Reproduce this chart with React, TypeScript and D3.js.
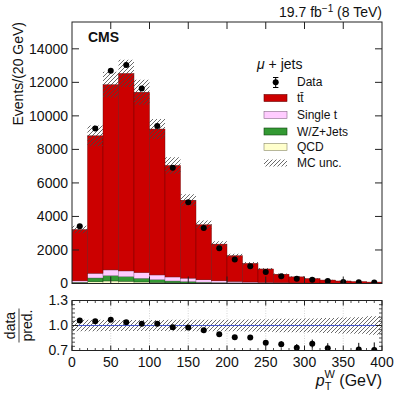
import React from "react";
import * as d3 from "d3";

// bins of 20 GeV, 0-400
const binEdges = [0, 20, 40, 60, 80, 100, 120, 140, 160, 180, 200, 220, 240, 260, 280, 300, 320, 340, 360, 380, 400];

const dataCounts = [3415, 9250, 12690, 13030, 11640, 9400, 6900, 4850, 3310, 2100, 1425, 1027, 688, 430, 290, 230, 150, 90, 82, 60];

const qcd = [20, 100, 150, 130, 90, 60, 40, 30, 20, 15, 10, 8, 5, 4, 3, 2, 2, 1, 1, 1];
const wzJets = [60, 230, 320, 280, 220, 170, 110, 90, 60, 45, 35, 25, 18, 13, 10, 8, 6, 5, 4, 3];
const singleTop = [80, 280, 340, 340, 340, 280, 240, 200, 140, 100, 75, 55, 40, 30, 22, 16, 12, 9, 7, 5];
const ttbar = [3060, 8200, 11050, 11780, 10760, 8705, 6650, 4650, 3286, 2190, 1537, 1112, 804, 508, 360, 269, 186, 135, 103, 76];

// relative MC uncertainty per bin
const mcRelUnc = [0.07, 0.07, 0.065, 0.065, 0.065, 0.065, 0.07, 0.07, 0.07, 0.07, 0.07, 0.072, 0.075, 0.08, 0.082, 0.085, 0.09, 0.095, 0.1, 0.11];

const yTicks = [0, 2000, 4000, 6000, 8000, 10000, 12000, 14000];
const xTicks = [0, 50, 100, 150, 200, 250, 300, 350, 400];
const ratioTicks = [0.7, 1.0, 1.3];

const legendItems = [
  { key: "tt", label: "tt\u0304", color: "#cc0000", stroke: "#660000" },
  { key: "st", label: "Single t", color: "#ffccff", stroke: "#886688" },
  { key: "wz", label: "W/Z+Jets", color: "#339933", stroke: "#114411" },
  { key: "qcd", label: "QCD", color: "#ffffcc", stroke: "#888866" },
];

const FONT = "'Liberation Sans', Arial, Helvetica, sans-serif";

export default function App() {
  const W = 399, H = 399;
  const L = 72, R = 382, T = 22, B = 283.5;
  const rT = 300.5, rB = 350.5;

  const x = d3.scaleLinear().domain([0, 400]).range([L, R]);
  const y = d3.scaleLinear().domain([0, 15600]).range([B, T]);
  const yr = d3.scaleLinear().domain([0.7, 1.3]).range([rB, rT]);

  const bins = dataCounts.map((d, i) => ({
    i,
    x0: binEdges[i],
    x1: binEdges[i + 1],
    qcd: qcd[i],
    wz: wzJets[i],
    st: singleTop[i],
    tt: ttbar[i],
    data: d,
  }));

  const stack = d3.stack<any>().keys(["qcd", "wz", "st", "tt"])(bins);
  const colorOf: Record<string, { color: string; stroke: string }> = {};
  legendItems.forEach((l) => (colorOf[l.key] = l));

  const mcTotal = bins.map((b) => b.qcd + b.wz + b.st + b.tt);

  const uncArea = d3
    .area<{ xv: number; lo: number; hi: number }>()
    .x((d) => x(d.xv))
    .y0((d) => y(d.lo))
    .y1((d) => y(d.hi))
    .curve(d3.curveStepAfter);
  const uncPts = bins.map((b, i) => ({ xv: b.x0, lo: mcTotal[i] * (1 - mcRelUnc[i]), hi: mcTotal[i] * (1 + mcRelUnc[i]) }));
  uncPts.push({ ...uncPts[uncPts.length - 1], xv: 400 });

  const ratioArea = d3
    .area<{ xv: number; lo: number; hi: number }>()
    .x((d) => x(d.xv))
    .y0((d) => yr(d.lo))
    .y1((d) => yr(d.hi))
    .curve(d3.curveStepAfter);
  const ratioPts = bins.map((b, i) => ({ xv: b.x0, lo: 1 - mcRelUnc[i], hi: 1 + mcRelUnc[i] }));
  ratioPts.push({ ...ratioPts[ratioPts.length - 1], xv: 400 });

  const minorX = d3.range(0, 401, 10).filter((v) => v % 50 !== 0);
  const minorR = d3.range(0.75, 1.3, 0.05).filter((v) => Math.abs(v - 1.0) > 0.01);

  const legX = 264, labX = 297;
  const rowY = [82, 98, 115, 131.5, 147, 163];

  return (
    <svg width={W} height={H} style={{ position: "absolute", left: 0, top: 0, background: "#fff" }} fontFamily={FONT}>
      <defs>
        <pattern id="hatch" patternUnits="userSpaceOnUse" width="4" height="4">
          <path d="M-1,1 l2,-2 M0,4 l4,-4 M3,5 l2,-2" stroke="#444" strokeWidth="0.8" />
        </pattern>
        <clipPath id="mainClip">
          <rect x={L} y={T} width={R - L} height={B - T} />
        </clipPath>
        <clipPath id="ratioClip">
          <rect x={L} y={rT} width={R - L} height={rB - rT} />
        </clipPath>
      </defs>

      {/* stacked MC */}
      <g clipPath="url(#mainClip)">
        {stack.map((layer) =>
          layer.map((d, i) => (
            <rect
              key={layer.key + i}
              x={x(bins[i].x0)}
              width={x(bins[i].x1) - x(bins[i].x0)}
              y={y(d[1])}
              height={Math.max(0, y(d[0]) - y(d[1]))}
              fill={colorOf[layer.key].color}
              stroke={colorOf[layer.key].stroke}
              strokeWidth={0.4}
            />
          ))
        )}
        <path d={uncArea(uncPts) || ""} fill="url(#hatch)" />
        {/* data */}
        {bins.map((b, i) => {
          const cx = x((b.x0 + b.x1) / 2);
          const e = Math.sqrt(b.data);
          return (
            <g key={"d" + i}>
              <line x1={cx} x2={cx} y1={y(b.data - e)} y2={y(b.data + e)} stroke="#000" strokeWidth={1} />
              <circle cx={cx} cy={y(b.data)} r={3} fill="#000" />
            </g>
          );
        })}
      </g>

      {/* main frame and ticks */}
      <rect x={L} y={T} width={R - L} height={B - T} fill="none" stroke="#222" strokeWidth={1} />
      {yTicks.map((t) => (
        <g key={"yt" + t}>
          <line x1={L} x2={L + 7} y1={y(t)} y2={y(t)} stroke="#222" />
          <line x1={R} x2={R - 7} y1={y(t)} y2={y(t)} stroke="#222" />
          <text x={L - 4} y={y(t)} dy="0.35em" textAnchor="end" fontSize={14} fill="#111">
            {t}
          </text>
        </g>
      ))}
      {xTicks.slice(1, -1).map((t) => (
        <g key={"xt" + t}>
          <line x1={x(t)} x2={x(t)} y1={T} y2={T + 7} stroke="#222" />
          <line x1={x(t)} x2={x(t)} y1={B} y2={B - 7} stroke="#222" />
        </g>
      ))}

      <text transform={`translate(23,${T}) rotate(-90)`} textAnchor="end" fontSize={14} fill="#111">
        Events/(20 GeV)
      </text>
      <text x={88} y={42} fontSize={14} fontWeight="bold" fill="#111">
        CMS
      </text>
      <text x={R} y={17} textAnchor="end" fontSize={14} fill="#111">
        19.7 fb<tspan dy={-5} fontSize={10}>{"\u22121"}</tspan>
        <tspan dy={5}> (8 TeV)</tspan>
      </text>

      {/* legend */}
      <text x={257} y={69} fontSize={14} fill="#111">
        <tspan fontStyle="italic">{"\u03bc"}</tspan> + jets
      </text>
      <line x1={275.7} x2={275.7} y1={77.5} y2={87.5} stroke="#000" />
      <line x1={273} x2={278.4} y1={77.5} y2={77.5} stroke="#000" />
      <line x1={273} x2={278.4} y1={87.5} y2={87.5} stroke="#000" />
      <circle cx={275.7} cy={82.3} r={3} fill="#000" />
      <text x={labX} y={rowY[0]} dy="0.35em" fontSize={12} fill="#111">
        Data
      </text>
      {legendItems.map((l, i) => (
        <g key={"leg" + l.key}>
          <rect x={legX} y={rowY[i + 1] - 3.5} width={23} height={7} fill={l.color} stroke={l.stroke} strokeWidth={0.6} />
          <text x={labX} y={rowY[i + 1]} dy="0.35em" fontSize={12} fill="#111">
            {l.label}
          </text>
        </g>
      ))}
      <rect x={legX} y={rowY[5] - 3.5} width={23} height={7} fill="url(#hatch)" />
      <text x={labX} y={rowY[5]} dy="0.35em" fontSize={12} fill="#111">
        MC unc.
      </text>

      {/* ratio panel */}
      {xTicks.slice(1, -1).map((t) => (
        <line key={"g" + t} x1={x(t)} x2={x(t)} y1={rT} y2={rB} stroke="#bbb" strokeWidth={0.6} strokeDasharray="1,1.5" />
      ))}
      <g clipPath="url(#ratioClip)">
        <path d={ratioArea(ratioPts) || ""} fill="url(#hatch)" />
        <line x1={L} x2={R} y1={yr(1)} y2={yr(1)} stroke="#4455cc" strokeWidth={1} />
        {bins.map((b, i) => {
          const cx = x((b.x0 + b.x1) / 2);
          const r = b.data / mcTotal[i];
          const e = Math.sqrt(b.data) / mcTotal[i];
          return (
            <g key={"r" + i}>
              <line x1={cx} x2={cx} y1={yr(r - e)} y2={yr(r + e)} stroke="#000" strokeWidth={1} />
              <circle cx={cx} cy={yr(r)} r={3} fill="#000" />
            </g>
          );
        })}
      </g>
      <rect x={L} y={rT} width={R - L} height={rB - rT} fill="none" stroke="#222" strokeWidth={1} />
      {xTicks.map((t) => (
        <g key={"rx" + t}>
          <line x1={x(t)} x2={x(t)} y1={rT} y2={rT + 5} stroke="#222" />
          <line x1={x(t)} x2={x(t)} y1={rB} y2={rB - 5} stroke="#222" />
          <text x={x(t)} y={367} textAnchor="middle" fontSize={14} fill="#111">
            {t}
          </text>
        </g>
      ))}
      {minorX.map((t) => (
        <g key={"mx" + t}>
          <line x1={x(t)} x2={x(t)} y1={rT} y2={rT + 2.5} stroke="#222" strokeWidth={0.8} />
          <line x1={x(t)} x2={x(t)} y1={rB} y2={rB - 2.5} stroke="#222" strokeWidth={0.8} />
        </g>
      ))}
      {ratioTicks.map((t) => (
        <g key={"ry" + t}>
          <line x1={L} x2={L + 6} y1={yr(t)} y2={yr(t)} stroke="#222" />
          <line x1={R} x2={R - 6} y1={yr(t)} y2={yr(t)} stroke="#222" />
          <text x={L - 4} y={yr(t)} dy="0.35em" textAnchor="end" fontSize={14} fill="#111">
            {t.toFixed(1)}
          </text>
        </g>
      ))}
      {minorR.map((t) => (
        <g key={"mr" + t}>
          <line x1={L} x2={L + 3} y1={yr(t)} y2={yr(t)} stroke="#222" strokeWidth={0.8} />
          <line x1={R} x2={R - 3} y1={yr(t)} y2={yr(t)} stroke="#222" strokeWidth={0.8} />
        </g>
      ))}

      {/* ratio y label */}
      <g transform={`translate(19,${yr(1)}) rotate(-90)`}>
        <text x={0} y={-4} textAnchor="middle" fontSize={14} fill="#111">
          data
        </text>
        <line x1={-17} x2={17} y1={0} y2={0} stroke="#111" strokeWidth={0.8} />
        <text x={0} y={13} textAnchor="middle" fontSize={14} fill="#111">
          pred.
        </text>
      </g>

      {/* x title */}
      <text x={R} y={386} textAnchor="end" fontSize={16} fill="#111">
        <tspan fontStyle="italic">p</tspan>
        <tspan dy={4} fontSize={11}>T</tspan>
        <tspan dx={-7} dy={-12} fontSize={11}>W</tspan>
        <tspan dy={8}> (GeV)</tspan>
      </text>
    </svg>
  );
}
